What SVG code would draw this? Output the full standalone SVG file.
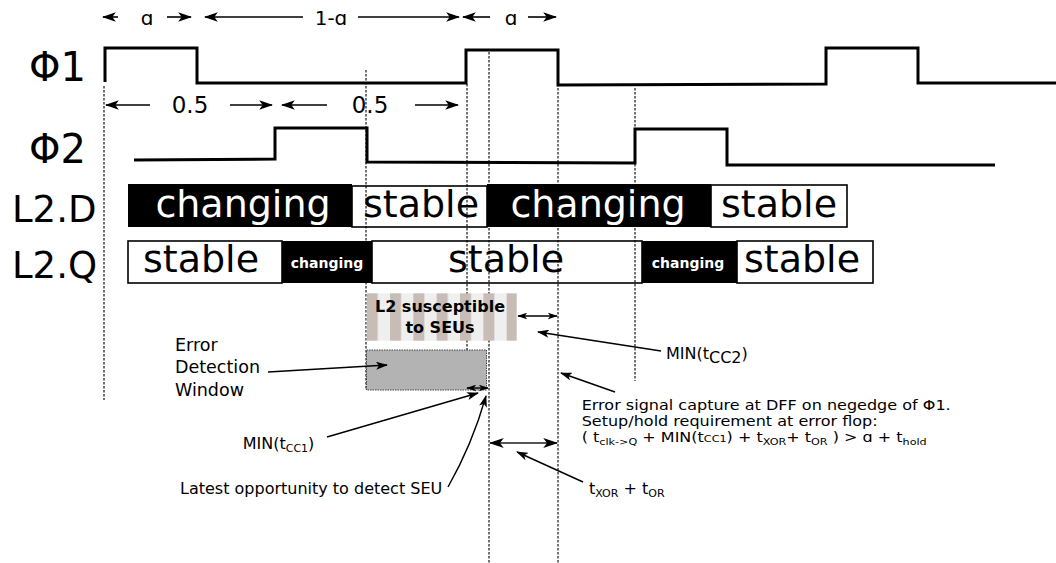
<svg xmlns="http://www.w3.org/2000/svg" width="1056" height="563" viewBox="0 0 1056 563">
<style>
text{font-family:"DejaVu Sans","Noto Sans",sans-serif;fill:#000}
.big{font-size:38px}
.lab{font-size:37px}
.phi{font-size:40px}
.dim{font-size:20px}
.half{font-size:23px}
.wt{fill:#fff}
.sm{font-size:14px;font-weight:bold;fill:#fff}
.ann{font-size:16px}
.cap{font-size:13.6px}
.ann2{font-size:17.5px}
.sub{font-size:11px}
.sub2{font-size:9.5px}
.wave{fill:none;stroke:#000;stroke-width:3;stroke-linejoin:miter}
.dash{stroke:#000;stroke-width:1.1;stroke-dasharray:2.5,1.5;fill:none}
.conn{stroke:#000;stroke-width:1.4;fill:none}
.dimln{stroke:#000;stroke-width:1.6;fill:none}
.box{fill:#fff;stroke:#000;stroke-width:1.6}
.blk{fill:#000}
</style>
<defs>
<marker id="ah" viewBox="0 0 12 8" refX="11" refY="4" markerWidth="12" markerHeight="8" orient="auto-start-reverse" markerUnits="userSpaceOnUse">
<path d="M0,0 L12,4 L0,8 L3,4 z" fill="#000"/>
</marker>
<marker id="ahd" viewBox="0 0 12 8" refX="11" refY="4" markerWidth="14" markerHeight="9.5" orient="auto-start-reverse" markerUnits="userSpaceOnUse">
<path d="M0,0 L12,4 L0,8 L3,4 z" fill="#000"/>
</marker>
<marker id="ahs" viewBox="0 0 12 8" refX="11" refY="4" markerWidth="10" markerHeight="7" orient="auto-start-reverse" markerUnits="userSpaceOnUse">
<path d="M0,0 L12,4 L0,8 L3,4 z" fill="#000"/>
</marker>
<marker id="ahb" viewBox="0 0 12 8" refX="11" refY="4" markerWidth="15" markerHeight="10" orient="auto-start-reverse" markerUnits="userSpaceOnUse">
<path d="M0,0 L12,4 L0,8 L3,4 z" fill="#000"/>
</marker>
<pattern id="stripes" patternUnits="userSpaceOnUse" x="366.7" y="0" width="23.33" height="563">
<rect x="0" y="0" width="23.33" height="563" fill="#efefef"/>
<rect x="0" y="0" width="11" height="563" fill="#c8bcb6"/>
</pattern>
</defs>

<g id="signal-labels">
<text class="phi" x="29" y="81">Φ1</text>
<text class="phi" x="29" y="163">Φ2</text>
<text class="lab" x="12" y="222">L2.D</text>
<text class="lab" x="12" y="278">L2.Q</text>
</g>

<g id="phi1">
<polyline class="wave" points="105,82 105,48 197,48 197,83 466,83 466,50 558,50 558,85 826,84 826,48 918,48 918,83 1056,83"/>
</g>
<g id="phi2">
<polyline class="wave" points="134,160 275,159 275,128 367,128 367,162 635,163 635,129 727,129 727,165 995,165"/>
</g>

<g id="dimensions">
<line class="dimln" x1="118" y1="17" x2="103" y2="17" marker-end="url(#ahd)"/>
<text class="dim" x="147" y="25" text-anchor="middle">ɑ</text>
<line class="dimln" x1="167" y1="17" x2="191" y2="17" marker-end="url(#ahd)"/>
<line class="dimln" x1="303" y1="17" x2="205" y2="17" marker-end="url(#ahd)"/>
<text class="dim" x="331" y="25" text-anchor="middle">1-ɑ</text>
<line class="dimln" x1="358" y1="17" x2="459" y2="17" marker-end="url(#ahd)"/>
<line class="dimln" x1="490" y1="17" x2="463" y2="17" marker-end="url(#ahd)"/>
<text class="dim" x="511" y="25" text-anchor="middle">ɑ</text>
<line class="dimln" x1="528" y1="17" x2="556" y2="17" marker-end="url(#ahd)"/>
<line class="dimln" x1="150" y1="105" x2="106" y2="105" marker-end="url(#ahd)"/>
<text class="half" x="190" y="113" text-anchor="middle">0.5</text>
<line class="dimln" x1="230" y1="105" x2="272" y2="105" marker-end="url(#ahd)"/>
<line class="dimln" x1="327" y1="105" x2="282" y2="105" marker-end="url(#ahd)"/>
<text class="half" x="370" y="113" text-anchor="middle">0.5</text>
<line class="dimln" x1="415" y1="105" x2="458" y2="105" marker-end="url(#ahd)"/>
</g>

<g id="l2d">
<rect class="blk" x="128" y="184" width="224" height="43"/>
<text class="big wt" x="243" y="217" text-anchor="middle">changing</text>
<rect class="box" x="352" y="186" width="135" height="41"/>
<text class="big" x="421" y="217" text-anchor="middle">stable</text>
<rect class="blk" x="487" y="184" width="224" height="43"/>
<text class="big wt" x="598" y="217" text-anchor="middle">changing</text>
<rect class="box" x="711" y="185" width="136" height="42"/>
<text class="big" x="779" y="217" text-anchor="middle">stable</text>
</g>

<g id="l2q">
<rect class="box" x="128" y="241" width="154" height="42"/>
<text class="big" x="201" y="272" text-anchor="middle">stable</text>
<rect class="blk" x="282" y="241" width="90" height="42"/>
<text class="sm" x="327" y="268" text-anchor="middle">changing</text>
<rect class="box" x="372" y="241" width="270" height="42"/>
<text class="big" x="506" y="272" text-anchor="middle">stable</text>
<rect class="blk" x="642" y="241" width="95" height="42"/>
<text class="sm" x="688" y="268" text-anchor="middle">changing</text>
<rect class="box" x="737" y="241" width="136" height="42"/>
<text class="big" x="802" y="272" text-anchor="middle">stable</text>
</g>

<g id="timing-lines">
<line class="dash" x1="104" y1="86" x2="104" y2="400"/>
<line class="dash" x1="366" y1="70" x2="366" y2="390"/>
<line class="dash" x1="467" y1="84" x2="467" y2="350"/>
<line class="dash" x1="489" y1="52" x2="489" y2="563"/>
<line class="dash" x1="558" y1="52" x2="558" y2="563"/>
<line class="dash" x1="635" y1="88" x2="635" y2="381"/>
</g>

<g id="seu-window">
<rect x="366.7" y="293.3" width="150" height="47.4" fill="url(#stripes)"/>
<text x="440" y="311.5" text-anchor="middle" style="font-size:16px;font-weight:bold">L2 susceptible</text>
<text x="440" y="333.3" text-anchor="middle" style="font-size:16px;font-weight:bold">to SEUs</text>
</g>

<g id="error-detection-window">
<rect x="366.5" y="350" width="120" height="40" fill="#b3b3b3" stroke="#444" stroke-width="1" stroke-dasharray="1.5,1"/>
</g>

<g id="labels">
<text class="ann2" x="175" y="350.5">Error</text>
<text class="ann2" x="175" y="373.3">Detection</text>
<text class="ann2" x="175" y="396">Window</text>
<text class="ann" x="666" y="359">MIN(t<tspan dy="3.5">CC2</tspan><tspan dy="-3.5">)</tspan></text>
<text class="cap" x="581.7" y="410" textLength="369" lengthAdjust="spacingAndGlyphs">Error signal capture at DFF on negedge of Φ1.</text>
<text class="cap" x="581.7" y="426" textLength="296" lengthAdjust="spacingAndGlyphs">Setup/hold requirement at error flop:</text>
<text class="cap" x="581.7" y="442" textLength="345" lengthAdjust="spacingAndGlyphs">( t<tspan class="sub2" dy="3">clk-&gt;Q</tspan><tspan dy="-3"> + MIN(t</tspan><tspan class="sub2">CC1</tspan><tspan>) + t</tspan><tspan class="sub2" dy="3">XOR</tspan><tspan dy="-3">+ t</tspan><tspan class="sub2" dy="3">OR</tspan><tspan dy="-3"> ) &gt; ɑ + t</tspan><tspan class="sub2" dy="3">hold</tspan></text>
<text class="ann" x="242.7" y="449">MIN(t<tspan class="sub" dy="3">CC1</tspan><tspan dy="-3">)</tspan></text>
<text class="ann" x="180" y="494">Latest opportunity to detect SEU</text>
<text class="ann" x="589" y="494">t<tspan class="sub" dy="3">XOR</tspan><tspan dy="-3"> + t</tspan><tspan class="sub" dy="3">OR</tspan></text>
</g>

<g id="connectors">
<line class="conn" x1="268" y1="372" x2="387" y2="365" marker-end="url(#ah)"/>
<line class="conn" x1="661" y1="351" x2="538" y2="332" marker-end="url(#ah)"/>
<line class="conn" x1="615" y1="392" x2="561" y2="373" marker-end="url(#ah)"/>
<line class="conn" x1="327" y1="437" x2="478" y2="393" marker-end="url(#ah)"/>
<path class="conn" d="M448,487 Q472,445 486,396" marker-end="url(#ah)"/>
<line class="conn" x1="583" y1="482" x2="517" y2="452" marker-end="url(#ah)"/>
<line class="conn" x1="518" y1="316" x2="557" y2="316" marker-start="url(#ahs)" marker-end="url(#ahs)"/>
<line class="conn" x1="467" y1="388" x2="488" y2="388" marker-start="url(#ahs)" marker-end="url(#ahs)"/>
<line x1="490" y1="443" x2="557" y2="443" stroke="#555" stroke-width="2" marker-start="url(#ahb)" marker-end="url(#ahb)"/>
</g>
</svg>
